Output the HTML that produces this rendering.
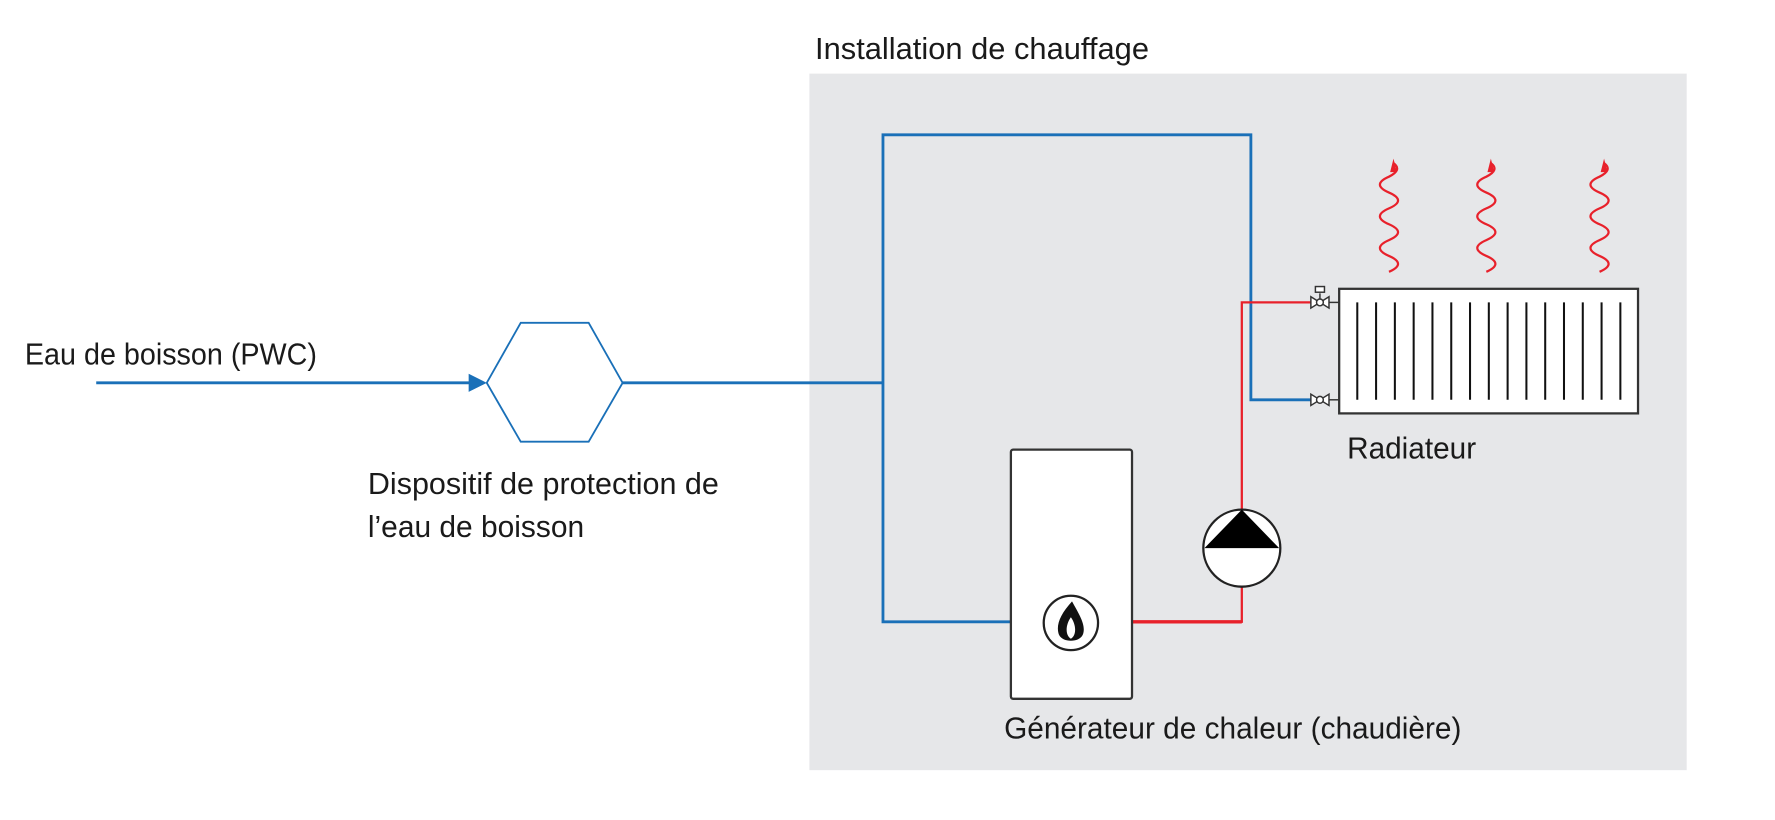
<!DOCTYPE html>
<html><head><meta charset="utf-8"><style>
html,body{margin:0;padding:0;background:#fff;width:1775px;height:820px;overflow:hidden}
svg{display:block}
text{font-family:"Liberation Sans Narrow","Liberation Sans",sans-serif;fill:#1a1a1a;font-size:27px}
</style></head><body>
<svg width="1775" height="820" viewBox="0 0 1568 724" preserveAspectRatio="none" xmlns="http://www.w3.org/2000/svg">
<rect x="715" y="65" width="775" height="615" fill="#e6e7e9"/>
<text x="720" y="52" textLength="295" lengthAdjust="spacingAndGlyphs">Installation de chauffage</text>
<text x="22" y="322" textLength="258" lengthAdjust="spacingAndGlyphs">Eau de boisson (PWC)</text>
<text x="325" y="436" textLength="310" lengthAdjust="spacingAndGlyphs">Dispositif de protection de</text>
<text x="325" y="474" textLength="191" lengthAdjust="spacingAndGlyphs">l’eau de boisson</text>
<text x="1190" y="405" textLength="114" lengthAdjust="spacingAndGlyphs">Radiateur</text>
<text x="887" y="652" textLength="404" lengthAdjust="spacingAndGlyphs">Générateur de chaleur (chaudière)</text>

<g stroke="#1a70b8" fill="none">
<line x1="85" y1="338" x2="418" y2="338" stroke-width="2.5"/>
<polygon points="414,330 430,338 414,346" fill="#1a70b8" stroke="none"/>
<polygon points="430,338 460,285 520,285 550,338 520,390 460,390" fill="#fff" stroke-width="1.6"/>
<line x1="550" y1="338" x2="780" y2="338" stroke-width="2.5"/>
<polyline points="893,549 780,549 780,119 1105,119 1105,353 1160,353" stroke-width="2.5"/>
</g>
<polyline points="1000,549 1097,549 1097,267 1160,267" fill="none" stroke="#e8212b" stroke-width="2"/>
<line x1="1000" y1="549" x2="1097" y2="549" stroke="#e8212b" stroke-width="3"/>

<rect x="893" y="397" width="107" height="220" rx="2" fill="#fff" stroke="#333" stroke-width="2"/>
<circle cx="946" cy="550" r="24" fill="#fff" stroke="#222" stroke-width="2"/>
<path d="M947,531 C937,542 933,551 935,559 C937,568 955,568 957,559 C959,551 953,542 947,531 Z M946,545 C941,552 941,561 946,564 C951,561 951,552 946,545 Z" fill="#111" fill-rule="evenodd"/>

<circle cx="1097" cy="484" r="34" fill="#fff" stroke="#222" stroke-width="2"/>
<polygon points="1064,484 1097,450 1130,484" fill="#000"/>

<rect x="1183" y="255" width="264" height="110" fill="#fff" stroke="#333" stroke-width="2"/>
<g stroke="#111" stroke-width="1.8">
<line x1="1199" y1="267" x2="1199" y2="353"/><line x1="1215.6" y1="267" x2="1215.6" y2="353"/>
<line x1="1232.2" y1="267" x2="1232.2" y2="353"/><line x1="1248.8" y1="267" x2="1248.8" y2="353"/>
<line x1="1265.4" y1="267" x2="1265.4" y2="353"/><line x1="1282" y1="267" x2="1282" y2="353"/>
<line x1="1298.6" y1="267" x2="1298.6" y2="353"/><line x1="1315.2" y1="267" x2="1315.2" y2="353"/>
<line x1="1331.8" y1="267" x2="1331.8" y2="353"/><line x1="1348.4" y1="267" x2="1348.4" y2="353"/>
<line x1="1365" y1="267" x2="1365" y2="353"/><line x1="1381.6" y1="267" x2="1381.6" y2="353"/>
<line x1="1398.2" y1="267" x2="1398.2" y2="353"/><line x1="1414.8" y1="267" x2="1414.8" y2="353"/>
<line x1="1431.4" y1="267" x2="1431.4" y2="353"/>
</g>
<g fill="#fff" stroke="#333" stroke-width="1.3">
<path d="M1158,262 L1158,272 L1174,262 L1174,272 Z"/><circle cx="1166" cy="267" r="3"/>
<line x1="1174" y1="267" x2="1183" y2="267"/><line x1="1166" y1="264" x2="1166" y2="259"/>
<rect x="1162" y="253" width="8" height="5"/>
<path d="M1158,348 L1158,358 L1174,348 L1174,358 Z"/><circle cx="1166" cy="353" r="3"/>
<line x1="1174" y1="353" x2="1183" y2="353"/>
</g>
<g fill="none" stroke="#e8212b" stroke-width="2">
<path d="M1227,240 q16,-7 0,-14 q-16,-7 0,-14 q16,-7 0,-14 q-16,-7 0,-14 q16,-7 0,-14 q-16,-7 0,-14 q12,-6 4,-12"/>
<path d="M1313,240 q16,-7 0,-14 q-16,-7 0,-14 q16,-7 0,-14 q-16,-7 0,-14 q16,-7 0,-14 q-16,-7 0,-14 q12,-6 4,-12"/>
<path d="M1413,240 q16,-7 0,-14 q-16,-7 0,-14 q16,-7 0,-14 q-16,-7 0,-14 q16,-7 0,-14 q-16,-7 0,-14 q12,-6 4,-12"/>
</g>
<g fill="#e8212b">
<polygon points="1228,152 1231,140 1234,152"/>
<polygon points="1314,152 1317,140 1320,152"/>
<polygon points="1414,152 1417,140 1420,152"/>
</g>
</svg>
</body></html>
